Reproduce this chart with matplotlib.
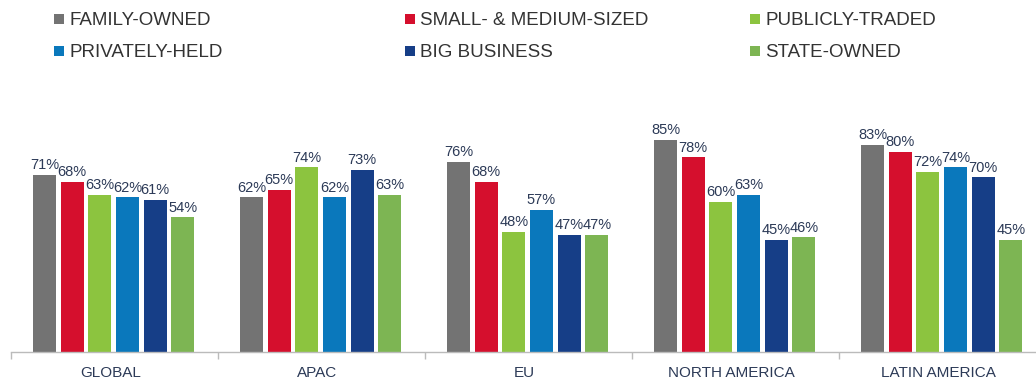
import numpy as np
import matplotlib
matplotlib.use("Agg")
import matplotlib.pyplot as plt

# regions along the x axis
regions = ["GLOBAL", "APAC", "EU", "NORTH AMERICA", "LATIN AMERICA"]

# share per ownership type, in percent
family_owned = [71, 62, 76, 85, 83]
small_medium = [68, 65, 68, 78, 80]
publicly_traded = [63, 74, 48, 60, 72]
privately_held = [62, 62, 57, 63, 74]
big_business = [61, 73, 47, 45, 70]
state_owned = [54, 63, 47, 46, 45]

series_names = ["FAMILY-OWNED", "SMALL- & MEDIUM-SIZED", "PUBLICLY-TRADED",
                "PRIVATELY-HELD", "BIG BUSINESS", "STATE-OWNED"]
series_values = [family_owned, small_medium, publicly_traded,
                 privately_held, big_business, state_owned]
colors = ["#737373", "#D50F2D", "#8CC43F", "#0A78BC", "#163E87", "#7DB553"]

TEXT_DARK = "#2C3A57"

plt.rcParams['font.family'] = ['Liberation Sans', 'DejaVu Sans']

fig = plt.figure(figsize=(10.36, 3.83), dpi=100)
W, H = 1036.0, 383.0
# axis runs a little past the right edge, like the slide it came from
ax = fig.add_axes([11 / W, 31 / H, 1035 / W, 250 / H])

x = np.arange(len(regions))
pitch = 0.1335
width = 0.111
first = -0.338

bars = []
for k, (name, vals, col) in enumerate(zip(series_names, series_values, colors)):
    pos = x + first + k * pitch
    b = ax.bar(pos, vals, width=width, color=col, label=name, zorder=2)
    bars.append(b)
    for px, v in zip(pos, vals):
        ax.text(px, v + 1.0, "%d%%" % v, ha="center", va="bottom",
                fontsize=10.5, color=TEXT_DARK)

ax.set_xlim(-0.5, len(regions) - 0.5)
ax.set_ylim(0, 100)

for side in ["top", "right", "left"]:
    ax.spines[side].set_visible(False)
ax.spines["bottom"].set_color("#BBBBBB")
ax.spines["bottom"].set_linewidth(1.0)
ax.set_yticks([])

# group boundaries get the tick marks, names sit in the middle
ax.set_xticks(np.arange(-0.5, len(regions) + 0.5, 1.0))
ax.set_xticklabels([])
ax.tick_params(axis="x", length=5, color="#BBBBBB", width=1.0)
ax.set_xticks(x - 0.02, minor=True)
ax.set_xticklabels(regions, minor=True, fontsize=11, color=TEXT_DARK)
ax.tick_params(axis="x", which="minor", length=0, pad=10)

# legend laid out as three columns of two
col_x = [45 / W, 396 / W, 741 / W]
for c in range(3):
    hs = [bars[c], bars[c + 3]]
    fig.legend(hs, [series_names[c], series_names[c + 3]],
               loc="upper left", bbox_to_anchor=(col_x[c], 1 - 3 / H),
               frameon=False, fontsize=13.5, handlelength=0.5, handleheight=0.45,
               handletextpad=0.3, labelspacing=0.8, borderpad=0,
               labelcolor="#333333")

fig.savefig("out.png", dpi=100)
